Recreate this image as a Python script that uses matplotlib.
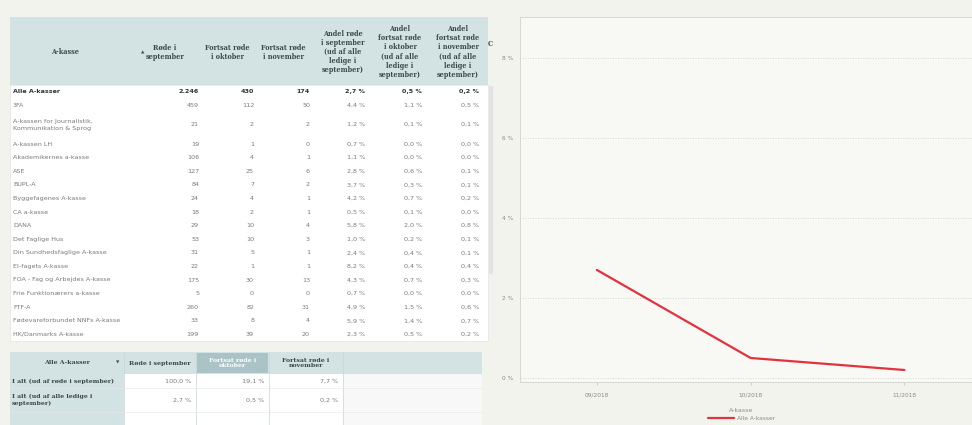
import matplotlib
matplotlib.use("Agg")
import matplotlib.pyplot as plt
from matplotlib.patches import Rectangle

# ---------------- data ----------------
total_label = "Alle A-kasser"
total_values = [2246, 430, 174, 2.7, 0.5, 0.2]

names = ["3FA", "A-kassen for Journalistik,\nKommunikation & Sprog", "A-kassen LH",
         "Akademikernes a-kasse", "ASE", "BUPL-A", "Byggefagenes A-kasse", "CA a-kasse",
         "DANA", "Det Faglige Hus", "Din Sundhedsfaglige A-kasse", "El-fagets A-kasse",
         "FOA - Fag og Arbejdes A-kasse", "Frie Funktionærers a-kasse", "FTF-A",
         "Fødevareforbundet NNFs A-kasse", "HK/Danmarks A-kasse"]
roede_sep = [459, 21, 19, 106, 127, 84, 24, 18, 29, 53, 31, 22, 175, 5, 260, 33, 199]
fortsat_okt = [112, 2, 1, 4, 25, 7, 4, 2, 10, 10, 5, 1, 30, 0, 82, 8, 39]
fortsat_nov = [50, 2, 0, 1, 6, 2, 1, 1, 4, 3, 1, 1, 13, 0, 31, 4, 20]
andel_sep = [4.4, 1.2, 0.7, 1.1, 2.8, 3.7, 4.2, 0.5, 5.8, 1.0, 2.4, 8.2, 4.3, 0.7, 4.9, 5.9, 2.3]
andel_okt = [1.1, 0.1, 0.0, 0.0, 0.6, 0.3, 0.7, 0.1, 2.0, 0.2, 0.4, 0.4, 0.7, 0.0, 1.5, 1.4, 0.5]
andel_nov = [0.5, 0.1, 0.0, 0.0, 0.1, 0.1, 0.2, 0.0, 0.8, 0.1, 0.1, 0.4, 0.3, 0.0, 0.6, 0.7, 0.2]

headers = ["A-kasse", "Røde i\nseptember", "Fortsat røde\ni oktober", "Fortsat røde\ni november",
           "Andel røde\ni september\n(ud af alle\nledige i\nseptember)",
           "Andel\nfortsat røde\ni oktober\n(ud af alle\nledige i\nseptember)",
           "Andel\nfortsat røde\ni november\n(ud af alle\nledige i\nseptember)"]

sum_headers = ["Alle A-kasser", "Røde i september", "Fortsat røde i\noktober", "Fortsat røde i\nnovember"]
sum_rows = ["I alt (ud af røde i september)", "I alt (ud af alle ledige i\nseptember)"]
sum_values = [[100.0, 19.1, 7.7], [2.7, 0.5, 0.2]]

months = ["09/2018", "10/2018", "11/2018"]
series_values = [2.7, 0.5, 0.2]
y_ticks = [0, 2, 4, 6, 8]

# ---------------- helpers ----------------
def fmt_int(v):
    return f"{v:,}".replace(",", ".")

def fmt_pct(v):
    return f"{v:.1f}".replace(".", ",") + " %"

W, H = 972, 425
PAGE = "#f3f3ee"
HEAD = "#d3e2e3"
TXT = "#7a7a7a"
DARK = "#333333"
HTXT = "#3d4a4c"
SANS = "DejaVu Sans"
SERIF = "DejaVu Serif"

fig = plt.figure(figsize=(W / 100, H / 100), dpi=100, facecolor=PAGE)
bg = fig.add_axes([0, 0, 1, 1])
bg.set_xlim(0, W)
bg.set_ylim(H, 0)
bg.axis("off")

# ---------------- main table ----------------
tx0, tx1 = 10, 488
head_top, head_bot = 17, 85
bg.add_patch(Rectangle((tx0, head_top), tx1 - tx0, head_bot - head_top, fc=HEAD, ec="none"))

col_centers = [65, 165, 227, 283, 343, 400, 458]
col_rights = [None, 199, 254, 310, 365, 422, 479]
hy = (head_top + head_bot) / 2 + 1
for c, h in zip(col_centers, headers):
    bg.text(c, hy, h, ha="center", va="center", fontsize=4.7, fontfamily=SERIF,
            fontweight="bold", color=HTXT, linespacing=1.2)
bg.text(143, hy, "▲", ha="center", va="center", fontsize=3.2, color=HTXT)
bg.text(488, 44, "C", ha="left", va="center", fontsize=4.7, fontfamily=SERIF,
        fontweight="bold", color=HTXT)

# body
rows = [(total_label, total_values, True)]
for i, n in enumerate(names):
    rows.append((n, [roede_sep[i], fortsat_okt[i], fortsat_nov[i],
                     andel_sep[i], andel_okt[i], andel_nov[i]], False))

single, double = 13.6, 25.0
y = head_bot
bodies = []
for n, vals, bold in rows:
    h = double if "\n" in n else single
    bodies.append((y, h, n, vals, bold))
    y += h
body_bot = y
bg.add_patch(Rectangle((tx0, head_bot), tx1 - tx0, body_bot - head_bot, fc="white", ec="#e4e4e4", lw=0.5))
for (ytop, h, n, vals, bold) in bodies:
    yc = ytop + h / 2
    col = DARK if bold else TXT
    fw = "bold" if bold else "normal"
    bg.text(13, yc, n, ha="left", va="center", fontsize=4.6, fontfamily=SANS,
            color=col, fontweight=fw, linespacing=1.6)
    for j, v in enumerate(vals):
        s = fmt_int(v) if j < 3 else fmt_pct(v)
        bg.text(col_rights[j + 1], yc, s, ha="right", va="center", fontsize=4.6,
                fontfamily=SANS, color=col, fontweight=fw)

# scrollbar
bg.add_patch(Rectangle((489, head_bot + 1), 4, 188, fc="#e3e3e3", ec="none"))

# ---------------- summary table ----------------
s_top, s_hbot = 352, 374
s_x = [10, 124, 196, 269, 343, 482]
bg.add_patch(Rectangle((s_x[0], s_top), s_x[-1] - s_x[0], s_hbot - s_top, fc=HEAD, ec="none"))
bg.add_patch(Rectangle((s_x[2] + 1, s_top + 1), s_x[3] - s_x[2] - 2, s_hbot - s_top - 2,
                       fc="#a9c3c6", ec="none"))
bg.add_patch(Rectangle((s_x[0], s_hbot), s_x[1] - s_x[0], H - s_hbot, fc=HEAD, ec="none"))
bg.add_patch(Rectangle((s_x[1], s_hbot), s_x[4] - s_x[1], H - s_hbot, fc="white", ec="none"))
bg.add_patch(Rectangle((s_x[4], s_hbot), s_x[5] - s_x[4], H - s_hbot, fc="#f8f8f8", ec="none"))
for xx in s_x[1:5]:
    bg.plot([xx, xx], [s_top, H], color="#c9d6d7", lw=0.5)
shy = (s_top + s_hbot) / 2
bg.text(67, shy, sum_headers[0], ha="center", va="center", fontsize=4.5, fontfamily=SERIF,
        fontweight="bold", color=HTXT)
bg.text(118, shy, "▼", ha="center", va="center", fontsize=3.2, color=HTXT)
for k in range(1, 4):
    c = (s_x[k] + s_x[k + 1]) / 2
    bg.text(c, shy, sum_headers[k], ha="center", va="center", fontsize=4.5, fontfamily=SERIF,
            fontweight="bold", color="white" if k == 2 else HTXT, linespacing=1.2)
row_y = [(374, 388), (388, 412), (412, 425)]
for r, (a, b) in enumerate(row_y):
    bg.plot([s_x[0], s_x[-1]], [b, b], color="#e6e6e6", lw=0.4)
for r, lab in enumerate(sum_rows):
    a, b = row_y[r]
    yc = (a + b) / 2
    bg.text(12, yc, lab, ha="left", va="center", fontsize=4.5, fontfamily=SERIF,
            fontweight="bold", color=HTXT, linespacing=1.25)
    for k, v in enumerate(sum_values[r]):
        bg.text(s_x[k + 2] - 5, yc, fmt_pct(v), ha="right", va="center", fontsize=4.6,
                fontfamily=SANS, color=TXT)

# ---------------- line chart ----------------
ax = fig.add_axes([520 / W, (H - 382) / H, (W - 520) / W, (382 - 17) / H])
ax.set_facecolor("#f8f8f5")
x = list(range(len(months)))
ax.plot(x, series_values, color="#e2323d", lw=1.6, label=total_label, solid_capstyle="round")
ax.set_xlim(-0.5, 2.44)
ax.set_ylim(-0.1, 9.02)
ax.set_yticks(y_ticks)
ax.set_yticklabels([f"{t} %" for t in y_ticks])
ax.set_xticks(x)
ax.set_xticklabels(months)
ax.grid(axis="y", color="#d2d2d2", lw=0.6, ls=(0, (1.2, 1.8)))
ax.set_axisbelow(True)
for s in ["left", "top", "bottom"]:
    ax.spines[s].set_color("#d6d6d6")
    ax.spines[s].set_linewidth(0.7)
ax.spines["right"].set_visible(False)
ax.tick_params(axis="y", length=0, labelsize=4.2, labelcolor="#8a8a8a", pad=5)
ax.tick_params(axis="x", length=2.5, color="#cccccc", labelsize=4.2, labelcolor="#8a8a8a", pad=5)
leg = ax.legend(loc="upper center", bbox_to_anchor=(0.49, -0.065), frameon=False,
                title="A-kasse", fontsize=4.2, title_fontsize=4.5, handlelength=4.5,
                borderaxespad=0, handletextpad=0.6)
leg.get_title().set_color("#8a8a8a")
for t in leg.get_texts():
    t.set_color("#8a8a8a")

fig.savefig("out.png", dpi=100, facecolor=PAGE)
